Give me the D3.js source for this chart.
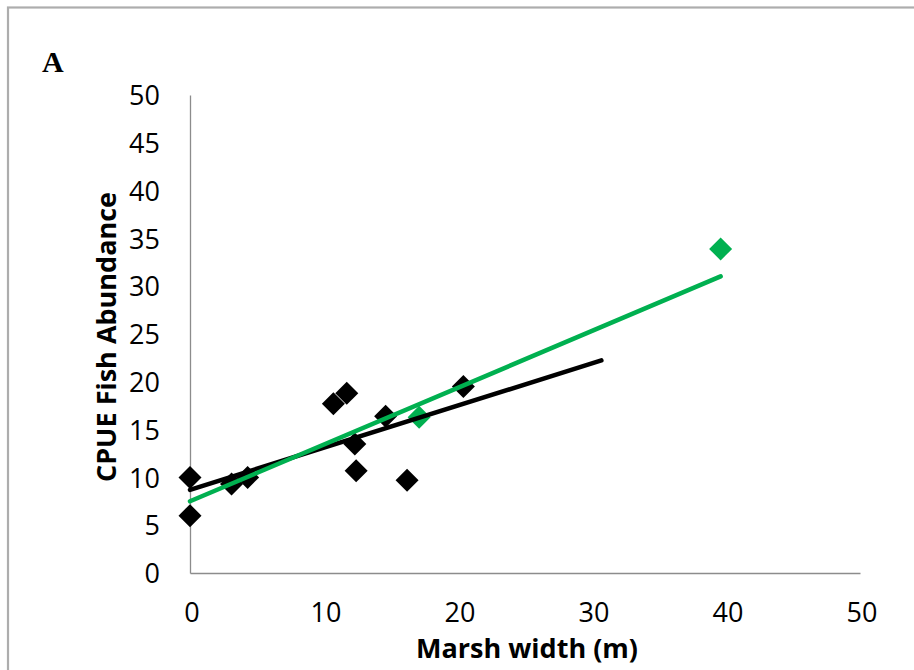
<!DOCTYPE html>
<html>
<head>
<meta charset="utf-8">
<script src="https://cdn.jsdelivr.net/npm/d3@7"></script>
<style>
  html, body { margin: 0; padding: 0; background: #fff; }
  svg { display: block; }
</style>
</head>
<body>
<svg id="chart" width="914" height="670"></svg>
<script>
// Marsh width (m) vs CPUE fish abundance
const blackX = [0, 0, 3.1, 4.3, 10.7, 11.7, 12.3, 12.4, 14.6, 16.2, 20.4];
const blackY = [10, 6.0, 9.3, 10.0, 17.7, 18.8, 13.5, 10.7, 16.4, 9.7, 19.5];
const greenX = [17.1, 39.6];
const greenY = [16.3, 33.9];

// Linear trendlines: [intercept, slope, xStart, xEnd]
const blackTrend = [8.7, 0.441, 0, 30.7];
const greenTrend = [7.5, 0.594, 0, 39.6];

const xTicks = [0, 10, 20, 30, 40, 50];
const yTicks = [0, 5, 10, 15, 20, 25, 30, 35, 40, 45, 50];

const svg = d3.select("#chart");
const font = "'Open Sans', 'Noto Sans', sans-serif";

// outer frame
svg.append("rect")
  .attr("x", 8).attr("y", 7.5)
  .attr("width", 940).attr("height", 700)
  .attr("fill", "none").attr("stroke", "#adadad").attr("stroke-width", 2.2);

const x = d3.scaleLinear().domain([0, 50]).range([190, 860]);
const y = d3.scaleLinear().domain([0, 50]).range([573, 95]);

// axes
const xAxis = svg.append("g").attr("transform", `translate(0,${y(0)})`)
  .call(d3.axisBottom(x).tickValues(xTicks).tickSize(0).tickPadding(30).tickFormat(d3.format("d")));
const yAxis = svg.append("g").attr("transform", `translate(${x(0)},0)`)
  .call(d3.axisLeft(y).tickValues(yTicks).tickSize(0).tickPadding(30).tickFormat(d3.format("d")));

[xAxis, yAxis].forEach(g => {
  g.select(".domain").attr("stroke", "#8c8c8c").attr("stroke-width", 1.3);
  g.selectAll("text").attr("font-family", font).attr("font-size", 27).attr("fill", "#000");
});
xAxis.selectAll("text").attr("dx", 1.5);
yAxis.selectAll("text").attr("dy", "0.36em");

// axis titles
svg.append("text")
  .attr("x", 527).attr("y", 658)
  .attr("text-anchor", "middle")
  .attr("font-family", font).attr("font-weight", "bold").attr("font-size", 27)
  .text("Marsh width (m)");

svg.append("text")
  .attr("transform", "translate(116,337) rotate(-90)")
  .attr("text-anchor", "middle")
  .attr("font-family", font).attr("font-weight", "bold").attr("font-size", 27)
  .text("CPUE Fish Abundance");

// panel letter
svg.append("text")
  .attr("x", 42).attr("y", 72)
  .attr("font-family", "'Liberation Serif', 'DejaVu Serif', serif")
  .attr("font-weight", "bold").attr("font-size", 30)
  .text("A");

// diamond markers
const diamond = d3.symbol().type(d3.symbolSquare).size(265);
function drawPoints(xs, ys, color) {
  svg.append("g").selectAll("path")
    .data(xs.map((v, i) => [v, ys[i]]))
    .join("path")
    .attr("d", diamond)
    .attr("transform", d => `translate(${x(d[0])},${y(d[1])}) rotate(45)`)
    .attr("fill", color);
}
drawPoints(blackX, blackY, "#000000");
drawPoints(greenX, greenY, "#00b050");

// trendlines
function drawTrend(t, color) {
  const [b, m, x0, x1] = t;
  svg.append("line")
    .attr("x1", x(x0)).attr("y1", y(b + m * x0))
    .attr("x2", x(x1)).attr("y2", y(b + m * x1))
    .attr("stroke", color).attr("stroke-width", 4.5).attr("stroke-linecap", "round");
}
drawTrend(blackTrend, "#000000");
drawTrend(greenTrend, "#00b050");
</script>
</body>
</html>
